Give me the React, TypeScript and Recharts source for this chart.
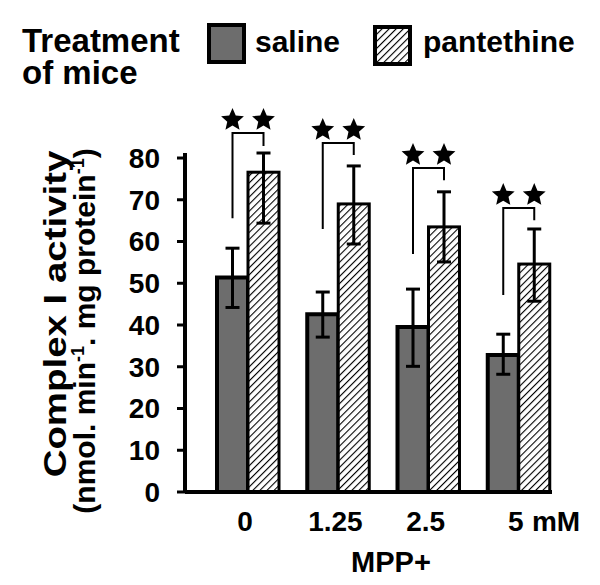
import { Bar, BarChart, ErrorBar, Legend, XAxis, YAxis } from "recharts";

const FONT = '"Liberation Sans", Arial, Helvetica, sans-serif';

const doses = ["0", "1.25", "2.5", "5"];
const salineMeans = [51.4, 42.6, 39.5, 32.8];
const salineErrors: [number, number][] = [
  [7.2, 7.0],
  [5.5, 5.3],
  [9.4, 9.1],
  [4.6, 5.0],
];
const pantethineMeans = [76.6, 69.0, 63.5, 54.6];
const pantethineErrors: [number, number][] = [
  [12.2, 4.6],
  [9.6, 9.1],
  [8.4, 8.4],
  [8.9, 8.4],
];
// significance brackets, in y units: saline leg end, top, pantethine leg end
const bracketSalineEnd = [65.6, 63.0, 57.0, 47.2];
const bracketTop = [86.0, 83.6, 77.6, 68.0];
const bracketPantethineEnd = [82.9, 80.7, 74.7, 65.1];
const yTicks = [0, 10, 20, 30, 40, 50, 60, 70, 80];
const seriesNames = ["saline", "pantethine"];

const data = doses.map((dose, i) => ({
  dose,
  saline: salineMeans[i],
  salineErr: salineErrors[i],
  pantethine: pantethineMeans[i],
  pantethineErr: pantethineErrors[i],
  bracketSalineEnd: bracketSalineEnd[i],
  bracketTop: bracketTop[i],
  bracketPantethineEnd: bracketPantethineEnd[i],
}));

const SALINE_FILL = "#6d6d6d";

function starPoints(cx: number, cy: number, r: number) {
  const pts: string[] = [];
  for (let k = 0; k < 10; k++) {
    const rad = k % 2 === 0 ? r : r * 0.46;
    const a = -Math.PI / 2 + (k * Math.PI) / 5;
    pts.push(`${cx + rad * Math.cos(a)},${cy + rad * Math.sin(a)}`);
  }
  return pts.join(" ");
}

function HatchDef({ id }: { id: string }) {
  return (
    <pattern id={id} patternUnits="userSpaceOnUse" width={5} height={5} patternTransform="rotate(45)">
      <rect width={5} height={5} fill="#fff" />
      <line x1={0} y1={0} x2={0} y2={5} stroke="#000" strokeWidth={2.2} />
    </pattern>
  );
}

function PantethineShape(props: any) {
  const { x, y, width, height, payload } = props;
  const perUnit = height / payload.pantethine;
  const base = y + height;
  const toY = (v: number) => base - v * perUnit;
  const leftX = x - width / 2;
  const rightX = x + width / 2;
  const top = toY(payload.bracketTop);
  return (
    <g>
      <rect x={x} y={y} width={width} height={height} fill="url(#hatch)" stroke="#000" strokeWidth={3} />
      <polyline
        points={`${leftX},${toY(payload.bracketSalineEnd)} ${leftX},${top} ${rightX},${top} ${rightX},${toY(payload.bracketPantethineEnd)}`}
        fill="none"
        stroke="#000"
        strokeWidth={2}
      />
      <polygon points={starPoints(leftX, top - 13, 12)} fill="#000" />
      <polygon points={starPoints(rightX, top - 13, 12)} fill="#000" />
    </g>
  );
}

function DoseTick({ x, y, payload, index }: any) {
  return (
    <g fontFamily={FONT} fontWeight={700} fontSize={28} fill="#000">
      <text x={x - 3} y={y + 39} textAnchor="middle">
        {payload.value}
      </text>
      {index === doses.length - 1 && (
        <text x={x + 13} y={y + 39} textAnchor="start">
          mM
        </text>
      )}
    </g>
  );
}

function TreatmentLegend() {
  return (
    <svg width={600} height={100} style={{ display: "block" }}>
      <defs>
        <HatchDef id="hatchLegend" />
      </defs>
      <g fontFamily={FONT} fontWeight={700} fill="#000">
        <text x={22} y={52} fontSize={33}>
          <tspan x={22}>Treatment</tspan>
          <tspan x={22} dy={32}>
            of mice
          </tspan>
        </text>
        <rect x={209} y={25} width={35} height={37} fill={SALINE_FILL} stroke="#000" strokeWidth={4} />
        <text x={255} y={52} fontSize={30}>
          {seriesNames[0]}
        </text>
        <rect x={375} y={27} width={35} height={37} fill="url(#hatchLegend)" stroke="#000" strokeWidth={4} />
        <text x={423} y={52} fontSize={30}>
          {seriesNames[1]}
        </text>
      </g>
    </svg>
  );
}

function YTitle() {
  return (
    <g fontFamily={FONT} fontWeight={700} fill="#000">
      <text transform="translate(66 314) rotate(-90) scale(1.24 1)" x={0} y={0} textAnchor="middle" fontSize={31}>
        Complex I activity
      </text>
      <text transform="translate(95 331) rotate(-90)" x={0} y={0} textAnchor="middle" fontSize={30}>
        (nmol. min
        <tspan fontSize={18} dy={-11}>
          -1
        </tspan>
        <tspan dy={11}>. mg protein</tspan>
        <tspan fontSize={18} dy={-11}>
          -1
        </tspan>
        <tspan dy={11}>)</tspan>
      </text>
    </g>
  );
}

export default function App() {
  return (
    <div style={{ position: "absolute", left: 0, top: 0, width: 600, height: 585, background: "#fff" }}>
      <BarChart
        width={600}
        height={585}
        data={data}
        margin={{ top: 153, right: 48, bottom: 0, left: 0 }}
        barCategoryGap={14}
        barGap={0}
      >
        <defs>
          <HatchDef id="hatch" />
        </defs>
        <XAxis
          dataKey="dose"
          height={93}
          padding={{ left: 18, right: -12 }}
          axisLine={{ stroke: "#000", strokeWidth: 4 }}
          tickLine={false}
          tickSize={0}
          tickMargin={0}
          interval={0}
          tick={<DoseTick />}
          label={{
            content: () => (
              <text x={391} y={572} textAnchor="middle" fontFamily={FONT} fontWeight={700} fontSize={29} fill="#000">
                MPP+
              </text>
            ),
          }}
        />
        <YAxis
          width={185}
          domain={[0, 80]}
          ticks={yTicks}
          interval={0}
          axisLine={{ stroke: "#000", strokeWidth: 4 }}
          tickLine={{ stroke: "#000", strokeWidth: 3 }}
          tickSize={8}
          tickMargin={17}
          tick={{ fontSize: 28, fontWeight: 700, fill: "#000", fontFamily: FONT }}
          label={{ content: () => <YTitle /> }}
        />
        <Legend
          layout="horizontal"
          verticalAlign="middle"
          align="center"
          wrapperStyle={{ top: 0, left: 0, width: 600, height: 100 }}
          content={() => <TreatmentLegend />}
        />
        <Bar dataKey="saline" name={seriesNames[0]} fill={SALINE_FILL} stroke="#000" strokeWidth={4} isAnimationActive={false}>
          <ErrorBar dataKey="salineErr" width={7} strokeWidth={3} stroke="#000" direction="y" />
        </Bar>
        <Bar
          dataKey="pantethine"
          name={seriesNames[1]}
          fill="url(#hatch)"
          stroke="#000"
          strokeWidth={3}
          shape={<PantethineShape />}
          isAnimationActive={false}
        >
          <ErrorBar dataKey="pantethineErr" width={7} strokeWidth={3} stroke="#000" direction="y" />
        </Bar>
      </BarChart>
    </div>
  );
}
